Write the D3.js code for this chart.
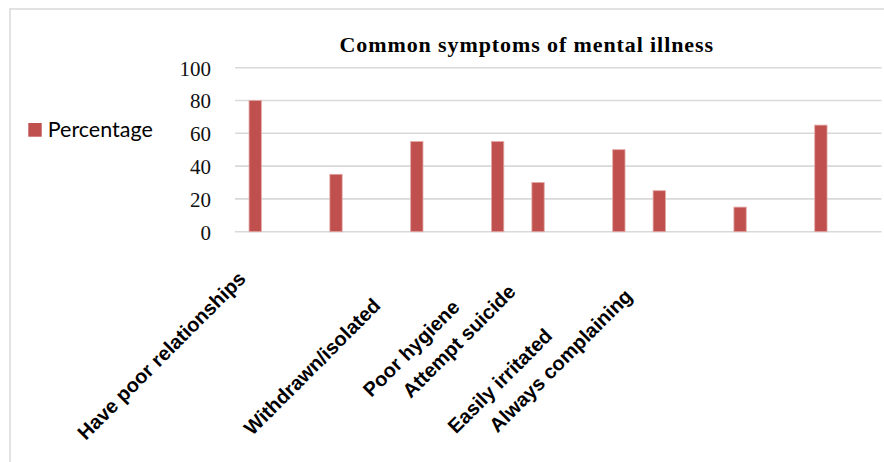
<!DOCTYPE html>
<html><head><meta charset="utf-8">
<script src="https://cdn.jsdelivr.net/npm/d3@7"></script>
<style>body{margin:0;background:#fff}</style>
</head><body><svg id="c" width="884" height="462"></svg>
<script>
// ---- data ----
const title = "Common symptoms of mental illness";
const seriesName = "Percentage";
const categories = ["Have poor relationships","","","","Withdrawn/isolated","","Poor hygiene","Attempt suicide","","Easily irritated","Always complaining","","","","",""];
const values = [80,null,35,null,55,null,55,30,null,50,25,null,15,null,65,null];
const yTicks = [0,20,40,60,80,100];

// ---- layout (not data) ----
const labelShift = {0:-11.7, 4:-49.6, 6:-52, 7:-30, 9:-92.5, 10:-36.5};
const barColor = "#c0504d";
const gridColor = "#d9d9d9";

const svg = d3.select("#c");
svg.append("rect").attr("x",10).attr("y",9).attr("width",900).attr("height",500)
  .attr("fill","none").attr("stroke",gridColor).attr("stroke-width",1.5);

const x = d3.scaleBand().domain(d3.range(categories.length)).range([235, 881.5])
  .paddingInner(0.695).paddingOuter(0.3475);
const y = d3.scaleLinear().domain([0,100]).range([231.7, 67.7]);

// gridlines
svg.append("g").selectAll("line").data(yTicks).join("line")
  .attr("x1",235).attr("x2",881.5)
  .attr("y1",d=>y(d)).attr("y2",d=>y(d))
  .attr("stroke",gridColor).attr("stroke-width",1.6);

// y axis labels
const yAxis = svg.append("g").attr("transform","translate(211,0)")
  .call(d3.axisLeft(y).tickValues(yTicks).tickSize(0).tickPadding(0));
yAxis.select(".domain").remove();
yAxis.selectAll("text").attr("font-family","'Liberation Serif', serif")
  .attr("font-size",21).attr("fill","#111").attr("dy","0.35em");

// bars
const data = values.map((v,i)=>({i, v}));
svg.append("g").selectAll("rect").data(data.filter(d=>d.v!=null)).join("rect")
  .attr("x",d=>x(d.i)).attr("width",x.bandwidth())
  .attr("y",d=>y(d.v)).attr("height",d=>y(0)-y(d.v))
  .attr("fill",barColor).attr("stroke","#e2a9a7").attr("stroke-width",0.8);

// category labels
const xAxis = svg.append("g").attr("transform","translate(0,"+(y(0)+40)+")")
  .call(d3.axisBottom(x).tickFormat(i=>categories[i]).tickSize(0).tickPadding(0));
xAxis.select(".domain").remove();
xAxis.selectAll("text")
  .attr("font-family","'Liberation Sans', Arial, sans-serif").attr("font-weight","bold")
  .attr("font-size",20).attr("fill","#000")
  .attr("text-anchor","end").attr("dy",0).attr("y",0)
  .attr("x",i=>labelShift[i]||0)
  .attr("transform","rotate(-45)");

// title
svg.append("text").attr("x",526.7).attr("y",51.7).attr("text-anchor","middle")
  .attr("font-family","'Liberation Serif', serif").attr("font-weight","bold")
  .attr("font-size",22).attr("letter-spacing",0.9).attr("fill","#000").text(title);

// legend
svg.append("rect").attr("x",28.3).attr("y",123).attr("width",13.4).attr("height",13.7).attr("fill",barColor);
svg.append("text").attr("x",47.7).attr("y",136.7)
  .attr("font-family","Lato, 'Open Sans', sans-serif").attr("font-size",21.5)
  .attr("fill","#000").text(seriesName);
</script></body></html>
